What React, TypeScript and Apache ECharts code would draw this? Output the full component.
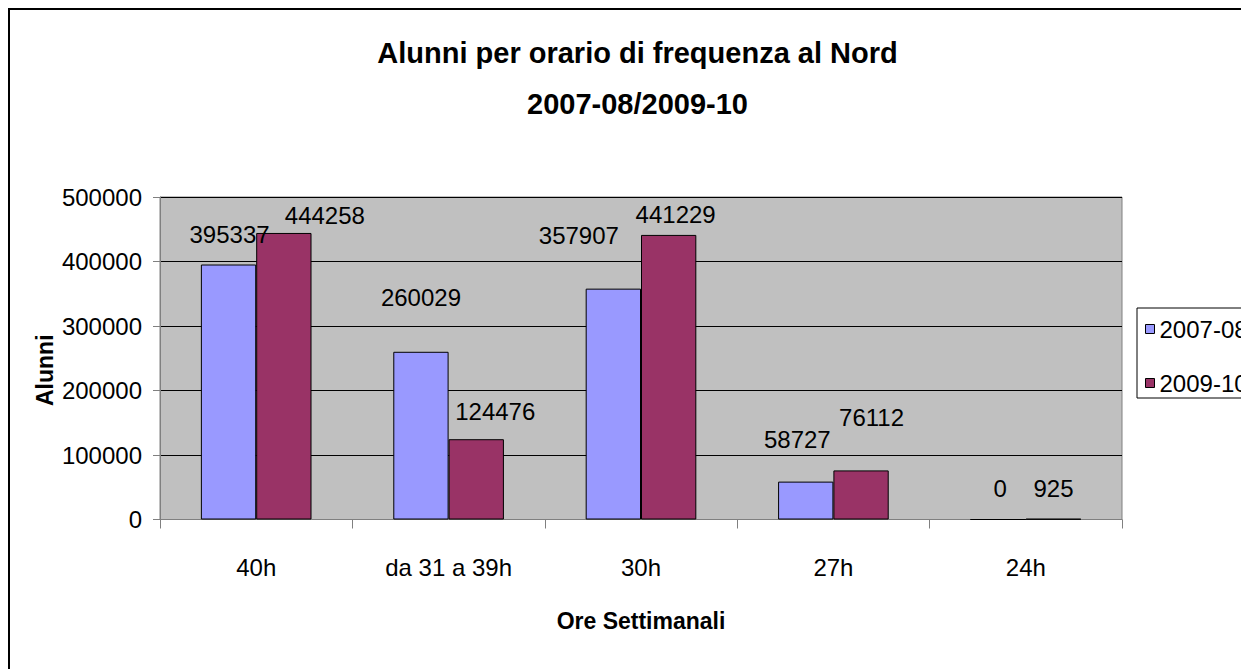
import React, { useEffect, useRef } from "react";
import * as echarts from "echarts";

const categories = ["40h", "da 31 a 39h", "30h", "27h", "24h"];
const seriesNames = ["2007-08", "2009-10"];
const values0708 = [395337, 260029, 357907, 58727, 0];
const values0910 = [444258, 124476, 441229, 76112, 925];
const yTicks = { min: 0, max: 500000, interval: 100000 };

// label nudges (pixels) as placed in the reference
const labelNudge0708 = [[1, -18.5], [0, -42], [-34.5, -40.7], [-8.4, -30], [2, -18.5]];
const labelNudge0910 = [[41, -5.5], [19, -16], [7, -8], [10.5, -41.4], [0, -18]];

const FONT = "'Liberation Sans', Arial, sans-serif";

export default function App() {
  const ref = useRef<HTMLDivElement>(null);
  useEffect(() => {
    if (!ref.current) return;
    const chart = echarts.init(ref.current, undefined, { renderer: "svg" });
    const mk = (vals: number[], nudges: number[][]) =>
      vals.map((v, i) => ({ value: v, label: { offset: nudges[i] } }));
    chart.setOption({
      animation: false,
      backgroundColor: "#fff",
      title: {
        text: "Alunni per orario di frequenza al Nord\n2007-08/2009-10",
        left: "center",
        top: 17.5,
        padding: 0,
        textStyle: { fontFamily: FONT, fontSize: 29, fontWeight: "bold", color: "#000", lineHeight: 51 },
      },
      legend: {
        orient: "vertical",
        left: 1127,
        top: 298,
        padding: [9, 10, 3, 8],
        itemGap: 30,
        itemWidth: 9,
        itemHeight: 9,
        icon: "rect",
        borderColor: "#000",
        borderWidth: 1,
        backgroundColor: "#fff",
        itemStyle: { borderColor: "#000", borderWidth: 1 },
        textStyle: { fontFamily: FONT, fontSize: 24, color: "#000" },
        data: seriesNames,
      },
      grid: {
        left: 150,
        top: 187,
        width: 962,
        height: 322.5,
        show: true,
        outerBoundsMode: "none",
        containLabel: false,
        backgroundColor: "#C0C0C0",
        borderColor: "#808080",
        borderWidth: 1,
      },
      xAxis: {
        type: "category",
        data: categories,
        name: "Ore Settimanali",
        nameLocation: "middle",
        nameGap: 90,
        nameMoveOverlap: false,
        nameTextStyle: { fontFamily: FONT, fontSize: 23, fontWeight: "bold", color: "#000" },
        axisLine: { lineStyle: { color: "#808080", width: 1 } },
        axisTick: { show: true, length: 9, lineStyle: { color: "#808080" } },
        axisLabel: { fontFamily: FONT, fontSize: 24, color: "#000", margin: 36, interval: 0 },
      },
      yAxis: {
        type: "value",
        min: yTicks.min,
        max: yTicks.max,
        interval: yTicks.interval,
        name: "Alunni",
        nameLocation: "middle",
        nameGap: 104,
        nameMoveOverlap: false,
        nameTextStyle: { fontFamily: FONT, fontSize: 23, fontWeight: "bold", color: "#000", padding: [0, 24, 0, 0] },
        axisLine: { show: true, lineStyle: { color: "#808080", width: 1 } },
        axisTick: { show: true, length: 7, lineStyle: { color: "#808080" } },
        axisLabel: { fontFamily: FONT, fontSize: 24, color: "#000", margin: 18, formatter: (v: number) => String(v) },
        splitLine: { show: true, lineStyle: { color: "#000", width: 1 } },
      },
      series: [
        {
          name: seriesNames[0],
          type: "bar",
          data: mk(values0708, labelNudge0708),
          barGap: "0%",
          barCategoryGap: "42.5%",
          itemStyle: { color: "#9999FF", borderColor: "#000", borderWidth: 1 },
          label: { show: true, position: "top", distance: 0, fontFamily: FONT, fontSize: 24, color: "#000" },
        },
        {
          name: seriesNames[1],
          type: "bar",
          data: mk(values0910, labelNudge0910),
          barGap: "0%",
          barCategoryGap: "42.5%",
          itemStyle: { color: "#993366", borderColor: "#000", borderWidth: 1 },
          label: { show: true, position: "top", distance: 0, fontFamily: FONT, fontSize: 24, color: "#000" },
        },
      ],
    });
    return () => chart.dispose();
  }, []);
  return (
    <div
      style={{
        position: "relative",
        width: 1239,
        height: 659,
        borderLeft: "2px solid #000",
        borderTop: "2px solid #000",
        overflow: "hidden",
        background: "#fff",
      }}
    >
      <div ref={ref} style={{ position: "absolute", left: 0, top: 0, width: 1255, height: 659 }} />
    </div>
  );
}
